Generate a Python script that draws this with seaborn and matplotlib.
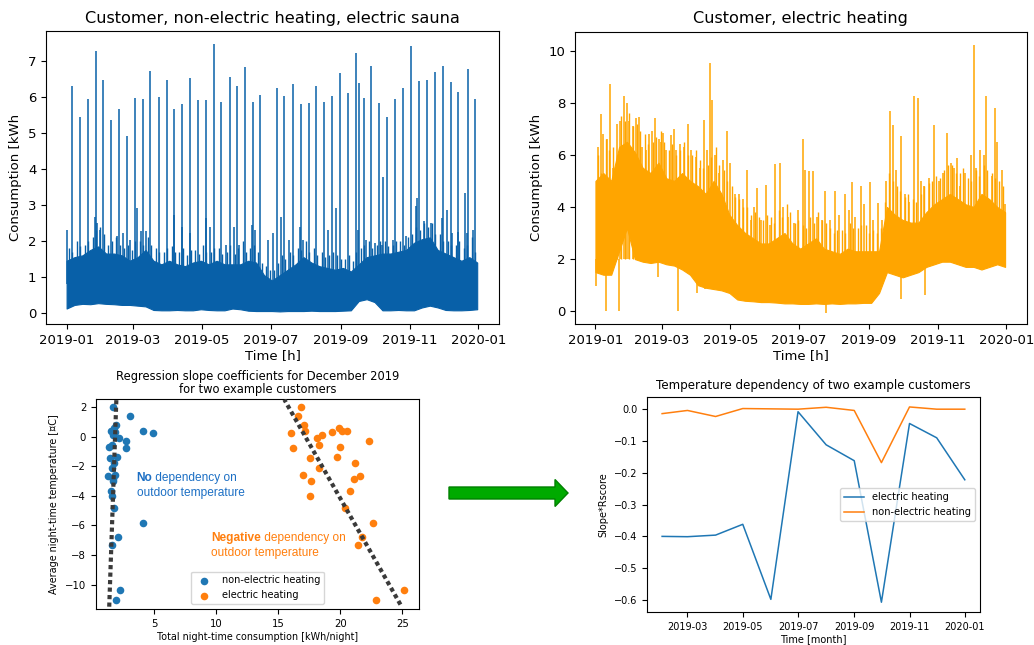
import numpy as np
import pandas as pd
import matplotlib
matplotlib.use("Agg")
import matplotlib.pyplot as plt
import matplotlib.dates as mdates
from matplotlib.patches import FancyArrow
import seaborn as sns

START = pd.Timestamp("2019-01-01")

# ---- top-left: customer with non-electric heating and an electric sauna ----
week_day = list(range(0, 365, 7))
sauna_low = [0.12, 0.22, 0.25, 0.24, 0.27, 0.25, 0.24, 0.22, 0.22, 0.2, 0.18,
             0.08, 0.07, 0.07, 0.08, 0.07, 0.07, 0.1, 0.08, 0.07, 0.07,
             0.12, 0.1,
             0.06, 0.05, 0.05, 0.05, 0.04, 0.05, 0.05, 0.05, 0.06, 0.05, 0.05, 0.05, 0.06, 0.07,
             0.33, 0.38, 0.3,
             0.07, 0.07, 0.08, 0.07, 0.07,
             0.15, 0.2, 0.15,
             0.08, 0.07, 0.07, 0.08, 0.1]
sauna_high = [1.45, 1.55, 1.6, 1.75, 1.85, 1.65, 1.65, 1.6, 1.45, 1.55,
              1.75, 1.45, 1.35, 1.45, 1.35, 1.3, 1.4, 1.45, 1.35, 1.45,
              1.35, 1.35, 1.35, 1.45, 1.4, 1.05, 0.9, 1.05, 1.2, 1.35,
              1.55, 1.4, 1.3, 1.25, 1.2, 1.25, 1.15, 1.35, 1.55, 1.6,
              1.65, 1.65, 1.7, 1.75, 1.95, 2.05, 2.1, 1.75, 1.65, 1.55,
              1.45, 1.55, 1.4]
# two extra daily peaks per week (day 7k+2 and 7k+5)
sauna_fringe_a = [1.8, 2.0, 1.9, 2.1, 2.4, 1.9, 2.1, 1.8, 1.75, 2.0,
                  2.1, 1.8, 1.7, 1.85, 1.7, 1.6, 1.75, 1.9, 1.7, 1.8,
                  1.7, 1.65, 2.0, 1.8, 1.7, 1.3, 1.2, 1.6, 1.7, 1.8,
                  2.0, 1.8, 1.7, 1.6, 1.6, 1.5, 1.45, 1.8, 2.0, 1.9,
                  2.0, 1.9, 2.0, 2.1, 2.4, 2.5, 2.5, 2.2, 2.0, 1.9,
                  1.8, 2.1]
sauna_fringe_b = [1.7, 1.85, 2.0, 2.3, 2.2, 2.0, 1.9, 1.9, 2.0, 1.9,
                  1.9, 1.7, 1.8, 1.7, 1.8, 1.75, 1.65, 1.7, 1.8, 1.65,
                  1.9, 1.8, 1.7, 1.9, 1.4, 1.2, 1.4, 1.5, 1.6, 1.75,
                  1.7, 1.6, 1.55, 1.7, 1.5, 1.6, 1.7, 1.9, 1.8, 2.0,
                  1.85, 2.0, 1.9, 2.2, 2.3, 2.4, 2.2, 2.0, 1.9, 2.0,
                  1.9, 1.7]
sauna_day = [4.4, 11.8, 18.9, 25.7, 32.4, 39.5, 46.6, 53.7, 60.5, 67.6,
             74.3, 81.7, 88.8, 95.6, 102.7, 109.7, 116.8, 123.9, 130.4, 137.2,
             144.5, 151.3, 158.4, 165.2, 171.4, 186.4, 192.6, 200.3, 207.4, 214.5,
             221.2, 228.3, 235.1, 242.2, 249.3, 256.3, 259.3, 263.4, 270.2, 277.3,
             280.5, 284.4, 291.4, 298.5, 305.6, 312.4, 319.2, 326.3, 333.3, 340.4,
             346.6, 353.4, 356.0, 361.7]
sauna_kwh = [6.31, 5.46, 5.94, 7.28, 6.47, 5.37, 5.68, 4.93, 5.97, 5.94,
             6.73, 6.02, 6.47, 5.67, 5.81, 6.53, 5.92, 5.93, 7.49, 5.86,
             6.56, 6.30, 6.83, 5.88, 6.06, 6.26, 6.03, 6.36, 5.81, 5.83,
             6.30, 5.88, 6.03, 6.67, 6.13, 7.24, 6.39, 5.97, 6.87, 5.85,
             3.77, 5.44, 5.94, 6.27, 7.44, 6.44, 6.48, 6.69, 6.87, 6.43,
             6.15, 3.33, 6.78, 5.96]
sauna_minor_day = [0, 25, 27, 29.5, 45, 50, 56.6, 62, 66, 70,
                   95, 102, 109, 124, 127, 141.6, 148, 153, 164, 167,
                   178.5, 182.6, 189.7, 197.6, 207, 210, 231.5, 239, 258, 265.5,
                   273, 280, 289.7, 301, 309.7, 310.6, 317, 323, 333, 336.9,
                   342, 346.6, 355, 360]
sauna_minor_kwh = [2.31, 2.68, 2.5, 2.31, 2.13, 2.22, 2.04, 2.92, 2.27, 2.28,
                   2.73, 2.4, 2.22, 2.64, 2.4, 1.9, 2.4, 1.9, 2.45, 2.31,
                   2.04, 2.22, 2.68, 2.04, 2.4, 2.04, 2.31, 2.92, 2.31, 2.04,
                   1.94, 1.9, 2.04, 2.13, 2.96, 3.19, 2.55, 2.5, 2.64, 2.87,
                   2.22, 2.25, 2.22, 2.31]

# ---- top-right: customer with electric heating ----
eheat_low = [1.5, 1.4, 1.4, 2.3, 3.2, 2.0, 1.9, 1.85, 1.9, 1.8,
             1.75, 1.6, 1.4, 1.0, 0.9, 0.85, 0.8, 0.7, 0.45, 0.4,
             0.38, 0.35, 0.35, 0.33, 0.3, 0.3, 0.28, 0.28, 0.3, 0.28,
             0.3, 0.28, 0.3, 0.3, 0.32, 0.32, 0.7, 1.5, 1.4, 1.3,
             1.4, 1.5, 1.7, 1.8, 1.9, 1.9, 1.8, 1.7, 1.7, 1.6,
             1.7, 1.8, 1.7]
eheat_high = [5.0, 5.3, 5.0, 6.3, 6.5, 6.1, 5.5, 5.3, 5.7, 5.1,
              5.0, 5.3, 5.0, 4.8, 4.5, 5.0, 4.5, 3.7, 3.3, 3.0,
              2.8, 2.6, 2.6, 2.8, 3.0, 2.6, 2.4, 2.6, 2.8, 2.4,
              2.3, 2.2, 2.4, 2.3, 2.3, 2.3, 2.3, 4.0, 3.7, 3.5,
              3.4, 3.4, 3.8, 4.1, 4.3, 4.5, 4.3, 4.1, 4.0, 4.5,
              4.3, 4.0, 3.8]
eheat_fringe_a = [6.0, 6.6, 6.3, 7.5, 7.6, 7.2, 6.8, 6.5, 6.9, 6.2,
                  6.0, 6.5, 6.0, 5.8, 5.6, 6.3, 5.4, 4.8, 4.3, 4.0,
                  3.8, 3.5, 3.6, 3.9, 4.1, 3.4, 3.3, 3.6, 3.8, 3.4,
                  3.0, 3.1, 3.4, 3.2, 3.3, 3.1, 3.2, 5.3, 4.8, 4.4,
                  4.3, 4.5, 4.9, 5.2, 5.4, 5.6, 5.3, 5.1, 5.4, 5.6,
                  5.3, 5.0]
eheat_fringe_b = [5.3, 6.2, 6.0, 7.3, 7.1, 6.9, 6.4, 6.7, 6.5, 6.4,
                  6.2, 6.0, 6.2, 5.5, 5.9, 5.6, 5.0, 4.4, 4.0, 3.7,
                  3.6, 3.7, 3.4, 3.6, 3.8, 3.5, 3.2, 3.4, 3.5, 3.2,
                  3.1, 3.0, 3.2, 3.3, 3.0, 3.0, 4.2, 5.0, 4.6, 4.5,
                  4.2, 4.8, 5.0, 5.1, 5.6, 5.3, 5.5, 5.0, 5.2, 5.4,
                  5.1, 4.8]
eheat_peak_day = [4.7, 12.7, 25.2, 27.6, 35.8, 38.5, 53, 56.5, 60, 66.9,
                  69.9, 82.3, 96.5, 102.1, 103.9, 116.9, 134.4, 143.9, 151.9, 159.9,
                  163.7, 184.7, 186, 189.8, 193, 204, 212.6, 221.4, 227.7, 236,
                  243.7, 250.7, 261.4, 264.4, 271.8, 283, 286.9, 292, 300.8, 312.6,
                  321.2, 333.9, 336.3, 341.3, 347.3, 354.7, 361.5]
eheat_peak_kwh = [7.55, 8.73, 8.25, 8.0, 7.4, 7.45, 7.4, 6.6, 6.85, 6.75,
                  7.0, 7.2, 7.33, 9.53, 8.1, 6.9, 5.43, 4.73, 4.83, 5.63,
                  5.69, 6.61, 5.43, 5.37, 5.37, 4.6, 4.6, 4.5, 4.95, 4.82,
                  4.95, 4.16, 7.67, 7.16, 6.74, 8.25, 8.18, 4.8, 7.16, 6.84,
                  5.88, 6.0, 10.2, 6.18, 8.25, 7.8, 5.41]
eheat_minor_day = [2, 7, 10, 16, 19, 22, 30, 33, 41, 45,
                   48, 50, 58, 63, 72, 75, 79, 85, 89, 93,
                   99, 106, 110, 113, 120, 124, 128, 131, 138, 141,
                   147, 155, 167, 171, 176, 180, 197, 201, 208, 216,
                   225, 231, 239, 247, 255, 258, 267, 275, 279, 289,
                   296, 305, 309, 316, 319, 324, 328, 338, 345, 352,
                   357, 364]
eheat_minor_kwh = [6.3, 6.8, 6.6, 5.5, 7.2, 7.3, 7.3, 7.1, 6.3, 6.2,
                   6.8, 6.9, 6.5, 6.2, 6.2, 6.4, 6.3, 6.2, 5.9, 5.5,
                   6.2, 6.0, 5.3, 5.8, 5.7, 4.5, 4.5, 4.3, 3.5, 4.0,
                   3.5, 3.3, 4.0, 3.6, 3.4, 3.9, 3.6, 3.5, 3.5, 3.7,
                   3.9, 3.6, 4.1, 3.5, 3.5, 5.0, 5.4, 4.5, 4.2, 5.0,
                   5.1, 5.0, 5.3, 5.7, 5.5, 4.8, 5.3, 5.5, 6.0, 5.2,
                   6.5, 4.1]
eheat_dip_day = [0.8, 9, 21, 56, 73, 90, 97, 205, 271.8, 292.5]
eheat_dip_kwh = [0.95, 0.0, 0.0, 1.3, 0.0, 0.7, 0.85, -0.05, 0.45, 0.64]

# ---- bottom-left: December 2019 nights ----
night_temp = [2.00, 1.40, 0.80, 0.56, 0.38, 0.38, 0.32, 0.36, 0.22, 0.14,
              -0.10, -0.32, -0.59, -0.68, -0.80, -1.40, -1.45, -1.80, -2.10, -2.62,
              -2.69, -2.84, -2.98, -3.70, -4.00, -4.83, -5.87, -6.75, -7.33, -10.34,
              -11.06]
night_cons_nonel = [1.72, 3.06, 1.90, 1.77, 4.09, 1.60, 1.85, 1.53, 4.89, 1.67,
                    2.18, 2.77, 1.60, 1.40, 2.77, 1.99, 1.45, 1.77, 1.60, 1.85,
                    1.32, 1.70, 1.67, 1.53, 1.64, 1.77, 4.09, 2.07, 1.64, 2.23,
                    1.91]
night_cons_el = [16.83, 16.59, 17.07, 19.92, 20.54, 20.13, 19.30, 17.18, 16.05, 18.52,
                 18.12, 22.28, 18.31, 20.00, 16.18, 19.70, 17.53, 21.18, 18.27, 16.99,
                 21.56, 21.08, 17.63, 20.78, 17.55, 20.40, 22.66, 21.75, 21.45, 25.13,
                 22.85]
# regression lines: consumption = intercept + slope * temperature
fit_intercept = [1.86, 17.18]
fit_slope = [0.041, -0.675]
fit_temp_range = [[-12.0, 2.6], [-11.35, 2.5]]

# ---- bottom-right: monthly slope*Rscore ----
month_start = ["2019-02-01", "2019-03-01", "2019-04-01", "2019-05-01", "2019-06-01", "2019-07-01",
               "2019-08-01", "2019-09-01", "2019-10-01", "2019-11-01", "2019-12-01", "2020-01-01"]
score_electric = [-0.400, -0.401, -0.396, -0.362, -0.598, -0.008,
                  -0.112, -0.162, -0.607, -0.045, -0.090, -0.222]
score_nonelectric = [-0.014, -0.004, -0.023, 0.002, 0.001, 0.000,
                     0.006, -0.004, -0.168, 0.007, 0.000, 0.000]


def to_dates(days):
    return START + pd.to_timedelta(np.asarray(days, dtype=float), unit="D")


def date_axis(ax, size):
    ax.xaxis.set_major_locator(mdates.MonthLocator(bymonth=[1, 3, 5, 7, 9, 11]))
    ax.xaxis.set_major_formatter(mdates.DateFormatter("%Y-%m"))
    ax.tick_params(labelsize=size)


def hourly_panel(ax, low, high, fringe_a, fringe_b, minor_day, minor_kwh,
                 peak_day, peak_kwh, base, color, title, ylim):
    weeks = to_dates(week_day)
    ax.fill_between(weeks, low, high, color=color, lw=0.8, edgecolor=color)
    wk = np.array(week_day[:len(fringe_a)], dtype=float)
    ax.vlines(to_dates(wk + 2), base, fringe_a, color=color, lw=1.0)
    ax.vlines(to_dates(wk + 5), base, fringe_b, color=color, lw=1.0)
    ax.vlines(to_dates(minor_day), base, minor_kwh, color=color, lw=1.1)
    ax.vlines(to_dates(peak_day), base, peak_kwh, color=color, lw=1.1)
    ax.set_xlim(START - pd.Timedelta(days=18.25), START + pd.Timedelta(days=383.25))
    ax.set_ylim(*ylim)
    date_axis(ax, 9.5)
    ax.set_title(title, fontsize=11.6)
    ax.set_xlabel("Time [h]", fontsize=9.5, labelpad=2)
    ax.set_ylabel("Consumption [kWh", fontsize=9.5)


fig = plt.figure(figsize=(10.34, 6.45), dpi=100)

ax_tl = fig.add_axes([0.0445, 0.4977, 0.438, 0.454])
hourly_panel(ax_tl, sauna_low, sauna_high, sauna_fringe_a, sauna_fringe_b,
             sauna_minor_day, sauna_minor_kwh, sauna_day, sauna_kwh, 0.8, "#0860a8",
             "Customer, non-electric heating, electric sauna", (-0.31, 7.84))

ax_tr = fig.add_axes([0.556, 0.4977, 0.437, 0.453])
hourly_panel(ax_tr, eheat_low, eheat_high, eheat_fringe_a, eheat_fringe_b,
             eheat_minor_day, eheat_minor_kwh, eheat_peak_day, eheat_peak_kwh, 2.0, "orange",
             "Customer, electric heating", (-0.49, 10.72))
ax_tr.vlines(to_dates(eheat_dip_day), eheat_dip_kwh, 2.0, color="orange", lw=1.1)

# ---- bottom-left scatter ----
ax_bl = fig.add_axes([0.0928, 0.0558, 0.312, 0.326])
sns.scatterplot(x=night_cons_nonel, y=night_temp, ax=ax_bl, color="tab:blue", s=30,
                linewidth=0, label="non-electric heating")
sns.scatterplot(x=night_cons_el, y=night_temp, ax=ax_bl, color="tab:orange", s=30,
                linewidth=0, label="electric heating")
ax_bl.set_xlim(0.32, 26.3)
ax_bl.set_ylim(-11.65, 2.56)
for b0, b1, tr in zip(fit_intercept, fit_slope, fit_temp_range):
    t = np.array(tr)
    ax_bl.plot(b0 + b1 * t, t, color="#3a3a3a", lw=3, ls=(0, (1, 0.8)), zorder=3)
ax_bl.legend(loc="lower center", fontsize=7)
ax_bl.tick_params(labelsize=7.3)
ax_bl.set_title("Regression slope coefficients for December 2019\nfor two example customers",
                fontsize=8.3, linespacing=1.05, pad=4)
ax_bl.set_xlabel("Total night-time consumption [kWh/night]", fontsize=6.9, labelpad=2)
ax_bl.set_ylabel("Average night-time temperature [\u00a4C]", fontsize=6.9)

fig.canvas.draw()
renderer = fig.canvas.get_renderer()


def two_tone(ax, x, y, bold, rest, second, color):
    t1 = ax.text(x, y, bold, color=color, fontsize=8.6, weight="bold",
                 family="Liberation Sans", va="baseline")
    bb = t1.get_window_extent(renderer)
    x1 = ax.transData.inverted().transform((bb.x1, bb.y0))[0]
    ax.text(x1, y, rest, color=color, fontsize=8.6, family="Liberation Sans", va="baseline")
    ax.text(x, y - 1.0, second, color=color, fontsize=8.6, family="Liberation Sans", va="baseline")


two_tone(ax_bl, 3.6, -3.0, "No", " dependency on", "outdoor temperature", "#1c6fc4")
two_tone(ax_bl, 9.6, -7.05, "Negative", " dependency on", "outdoor temperature", "#ff7f0e")

# ---- bottom-right line chart ----
ax_br = fig.add_axes([0.6257, 0.0512, 0.322, 0.333])
months = pd.to_datetime(month_start)
sns.lineplot(x=months, y=score_electric, ax=ax_br, color="tab:blue", lw=1.1, label="electric heating")
sns.lineplot(x=months, y=score_nonelectric, ax=ax_br, color="tab:orange", lw=1.1,
             label="non-electric heating")
date_axis(ax_br, 7)
ax_br.legend(loc="center right", fontsize=7.1)
ax_br.set_title("Temperature dependency of two example customers", fontsize=8.6)
ax_br.set_xlabel("Time [month]", fontsize=7, labelpad=2)
ax_br.set_ylabel("Slope*Rscore", fontsize=7)

# ---- green arrow between the bottom panels ----
overlay = fig.add_axes([0, 0, 1, 1])
overlay.set_xlim(0, 1034)
overlay.set_ylim(645, 0)
overlay.axis("off")
overlay.add_patch(FancyArrow(449, 493, 119, 0, width=12, head_width=27, head_length=13,
                             length_includes_head=True, facecolor="#00aa00", edgecolor="#008000", lw=1))

fig.savefig("out.png", dpi=100)
